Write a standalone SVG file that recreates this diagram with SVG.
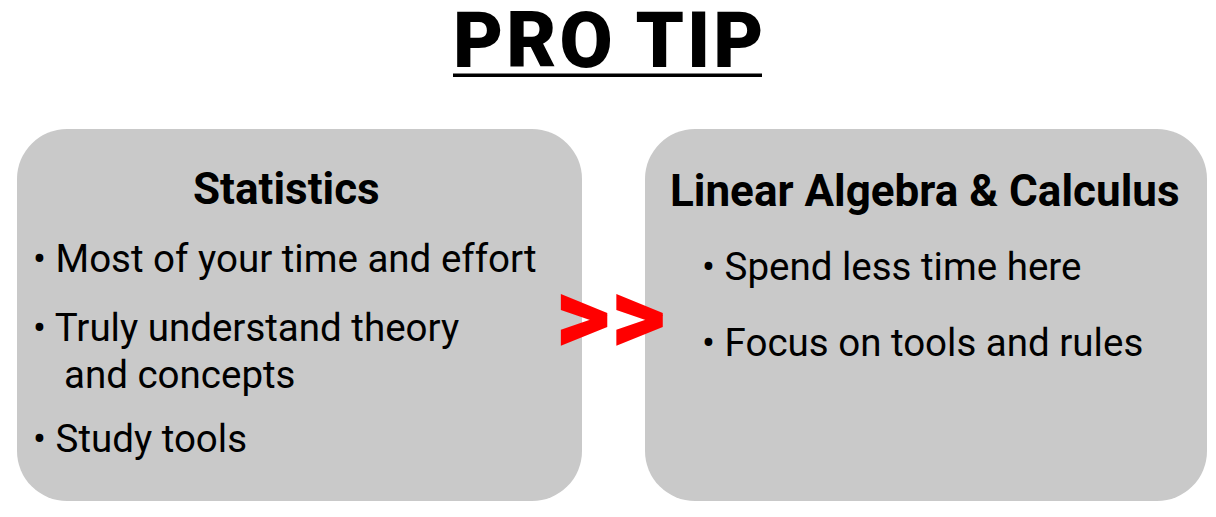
<svg xmlns="http://www.w3.org/2000/svg" width="1216" height="517" viewBox="0 0 1216 517">
<style>
.box{fill:#c9c9c9;}
.h{font-family:Roboto,"Liberation Sans",sans-serif;font-weight:700;font-size:44px;fill:#000;}
.t{font-family:Roboto,"Liberation Sans",sans-serif;font-weight:400;font-size:38.5px;fill:#000;}
.title{font-family:Roboto,"Liberation Sans",sans-serif;font-weight:900;font-size:77px;fill:#000;}
.gt{font-family:Roboto,"Liberation Sans",sans-serif;font-weight:900;font-size:108px;fill:#ff0000;}
</style>
<rect width="1216" height="517" fill="#ffffff"/>
<g id="title">
<text class="title" x="453" y="67" letter-spacing="3">PRO TIP</text>
<rect x="453" y="73.5" width="309" height="3.5" fill="#000"/>
</g>
<g id="statistics">
<rect class="box" x="17" y="129" width="565" height="372" rx="50" ry="50"/>
<text class="h" x="193" y="204">Statistics</text>
<text class="t" x="33" y="272">• Most of your time and effort</text>
<text class="t" x="33" y="341">• Truly understand theory</text>
<text class="t" x="64" y="388">and concepts</text>
<text class="t" x="33" y="452">• Study tools</text>
</g>
<g id="linear-algebra-calculus">
<rect class="box" x="645" y="129" width="562" height="372" rx="50" ry="50"/>
<text class="h" x="670" y="206">Linear Algebra &amp; Calculus</text>
<text class="t" x="702" y="280">• Spend less time here</text>
<text class="t" x="702" y="356">• Focus on tools and rules</text>
</g>
<g id="connectors">
<text class="gt" x="555" y="352">&gt;&gt;</text>
</g>
</svg>
